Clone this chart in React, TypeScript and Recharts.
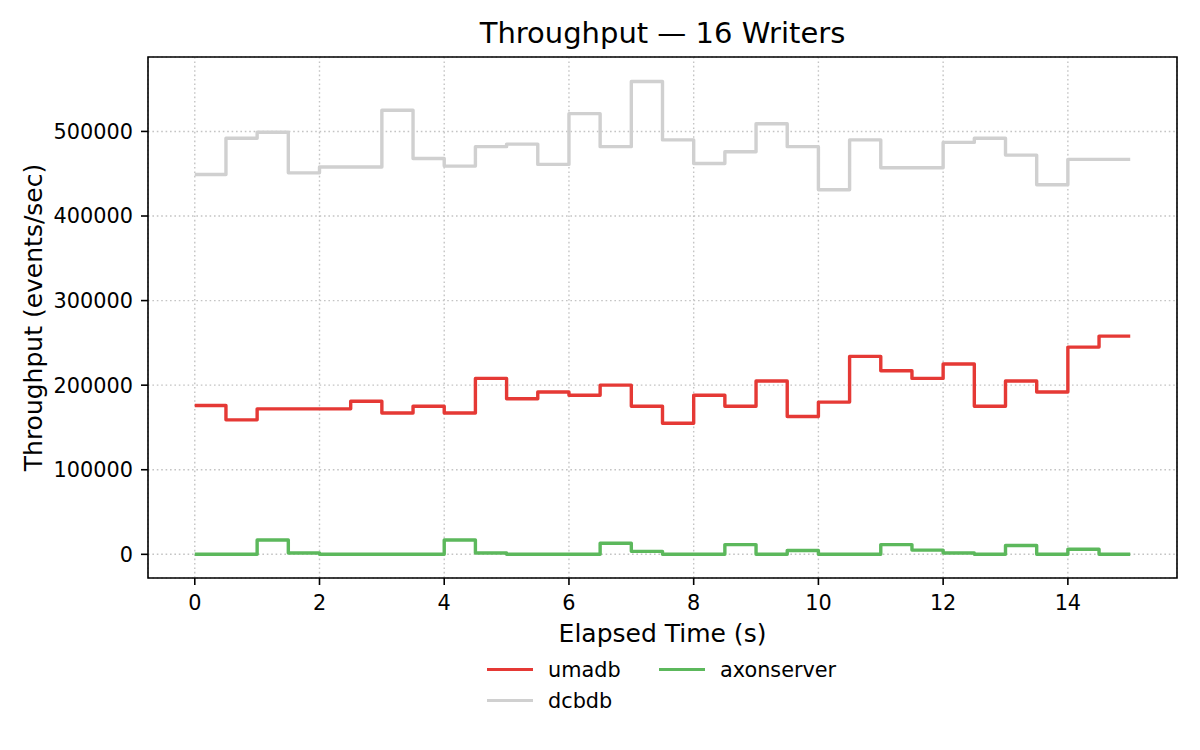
import {
  CartesianGrid,
  Label,
  Legend,
  Line,
  LineChart,
  ReferenceArea,
  XAxis,
  YAxis,
} from "recharts"

// elapsed time (s), one sample every half second
const TIMES = [
  0, 0.5, 1, 1.5, 2, 2.5, 3, 3.5, 4, 4.5, 5, 5.5, 6, 6.5, 7, 7.5,
  8, 8.5, 9, 9.5, 10, 10.5, 11, 11.5, 12, 12.5, 13, 13.5, 14, 14.5, 15,
]

// throughput (events/sec)
const UMADB = [
  176000, 159000, 172000, 172000, 172000, 181000, 167000, 175000, 167000, 208000, 184000,
  192000, 188000, 200000, 175000, 155000, 188000, 175000, 205000, 163000, 180000, 234000,
  217000, 208000, 225000, 175000, 205000, 192000, 245000, 258000, 258000,
]

const DCBDB = [
  449000, 492000, 499000, 451000, 458000, 458000, 525000, 468000, 459000, 482000, 485000,
  461000, 521000, 482000, 559000, 490000, 462000, 476000, 509000, 482000, 431000, 490000,
  457000, 457000, 487000, 492000, 472000, 437000, 467000, 467000, 467000,
]

const AXONSERVER = [
  0, 0, 17000, 1500, 0, 0, 0, 0, 17000, 1500, 0,
  0, 0, 13000, 3500, 0, 0, 11500, 0, 4500, 0, 0,
  11500, 5000, 1500, 0, 10500, 0, 6000, 0, 0,
]

const X_TICKS = [0, 2, 4, 6, 8, 10, 12, 14]
const Y_TICKS = [0, 100000, 200000, 300000, 400000, 500000]
const X_DOMAIN = [-0.75, 15.75]
const Y_DOMAIN = [-28000, 588000]

const SERIES = [
  { key: "umadb", color: "#e53935" },
  { key: "dcbdb", color: "#d0d0d0" },
  { key: "axonserver", color: "#5cb85c" },
]

const FONT = "'DejaVu Sans', sans-serif"
const TICK_FONT = 20.8
const LABEL_FONT = 25

const data = TIMES.map((t, i) => ({
  t,
  umadb: UMADB[i],
  dcbdb: DCBDB[i],
  axonserver: AXONSERVER[i],
}))

function renderLegend() {
  return (
    <div
      style={{
        display: "grid",
        gridTemplateColumns: "172px auto",
        gridTemplateRows: "31px 31px",
        gridAutoFlow: "column",
        fontFamily: FONT,
        fontSize: TICK_FONT,
        color: "#000",
      }}
    >
      {SERIES.map((s) => (
        <div key={s.key} style={{ display: "flex", alignItems: "center" }}>
          <span style={{ width: 46, height: 3.4, background: s.color, marginRight: 15 }} />
          <span>{s.key}</span>
        </div>
      ))}
    </div>
  )
}

export default function App() {
  return (
    <div style={{ position: "absolute", left: 0, top: 0, width: 1200, height: 750, background: "#fff" }}>
      <div
        style={{
          position: "absolute",
          left: 148,
          width: 1029,
          top: 19,
          textAlign: "center",
          fontFamily: FONT,
          fontSize: 29,
          lineHeight: "29px",
          color: "#000",
        }}
      >
        Throughput — 16 Writers
      </div>
      <LineChart width={1200} height={750} data={data} margin={{ top: 57, right: 23, left: 58, bottom: 132 }}>
        <CartesianGrid stroke="#c4c4c4" strokeWidth={1.4} strokeDasharray="1.6 2.8" />
        <XAxis
          dataKey="t"
          type="number"
          domain={X_DOMAIN}
          ticks={X_TICKS}
          allowDataOverflow
          height={40}
          axisLine={false}
          tickLine={{ stroke: "#000", strokeWidth: 1.6 }}
          tickSize={7}
          tickMargin={10}
          tick={{ fill: "#000", fontSize: TICK_FONT, fontFamily: FONT }}
        >
          <Label
            content={(props: any) => {
              const vb = props.viewBox
              return (
                <text x={vb.x + vb.width / 2} y={642} textAnchor="middle" fontSize={LABEL_FONT} fontFamily={FONT} fill="#000">
                  Elapsed Time (s)
                </text>
              )
            }}
          />
        </XAxis>
        <YAxis
          type="number"
          domain={Y_DOMAIN}
          ticks={Y_TICKS}
          allowDataOverflow
          width={90}
          axisLine={false}
          tickLine={{ stroke: "#000", strokeWidth: 1.6 }}
          tickSize={7}
          tickMargin={8}
          tick={{ fill: "#000", fontSize: TICK_FONT, fontFamily: FONT }}
        >
          <Label
            content={(props: any) => {
              const vb = props.viewBox
              const cy = vb.y + vb.height / 2
              return (
                <text
                  x={42}
                  y={cy}
                  transform={`rotate(-90, 42, ${cy})`}
                  textAnchor="middle"
                  fontSize={LABEL_FONT}
                  fontFamily={FONT}
                  fill="#000"
                >
                  Throughput (events/sec)
                </text>
              )
            }}
          />
        </YAxis>
        <ReferenceArea
          x1={X_DOMAIN[0]}
          x2={X_DOMAIN[1]}
          y1={Y_DOMAIN[0]}
          y2={Y_DOMAIN[1]}
          fill="none"
          stroke="#000"
          strokeWidth={1.6}
          ifOverflow="visible"
        />
        {SERIES.map((s) => (
          <Line
            key={s.key}
            type="stepAfter"
            dataKey={s.key}
            stroke={s.color}
            strokeWidth={3.4}
            strokeLinejoin="round"
            dot={false}
            activeDot={false}
            isAnimationActive={false}
          />
        ))}
        <Legend
          layout="horizontal"
          verticalAlign="middle"
          content={renderLegend}
          wrapperStyle={{ left: 487, top: 654, width: "auto", height: "auto" }}
        />
      </LineChart>
    </div>
  )
}
